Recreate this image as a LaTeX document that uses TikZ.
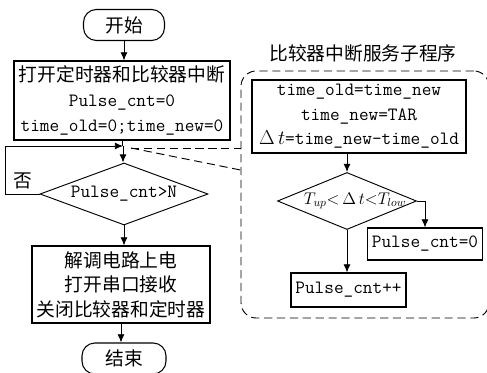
\documentclass[tikz,border=0pt]{standalone}
\usepackage{fontspec}
\newfontfamily\cjk{Noto Sans CJK SC}
\usetikzlibrary{shapes.geometric,arrows.meta}

\tikzset{
  every node/.style={font=\fontsize{16}{21}\selectfont},
  box/.style={draw, line width=0.9pt, align=center, inner sep=0pt},
  term/.style={box, rounded corners=11pt},
  decision/.style={draw, line width=0.8pt, diamond, inner sep=0pt},
}

\begin{document}
\begin{tikzpicture}[x=0.03cm, y=-0.03cm, line width=0.8pt, >={Latex[length=7pt,width=6pt]}]
        \useasboundingbox (0,0) rectangle (487,372);

        % main program
        \node [term, minimum width=2.43cm, minimum height=0.93cm] (start) at (124,25)  {\cjk 开始};
        \node [box, minimum width=6.48cm, minimum height=2.37cm]  (init)  at (122,100.5)
              {\cjk 打开定时器和比较器中断\\ \texttt{Pulse\_cnt=0}\\ \texttt{time\_old=0;time\_new=0}};
        \node [decision, minimum width=5.04cm, minimum height=1.86cm,
               label=center:{\texttt{Pulse\_cnt>N}}]         (cond)  at (124,194) {};
        \node [box, minimum width=5.34cm, minimum height=2.31cm]  (demod) at (121,284.5)
              {\cjk 解调电路上电\\ \cjk 打开串口接收\\ \cjk 关闭比较器和定时器};
        \node [term, minimum width=2.52cm, minimum height=0.93cm] (stop)  at (124,358.5) {\cjk 结束};
        \node (no) at (23,181) {\cjk 否};
        \coordinate (join) at (123,146);                          % loop re-entry
        \coordinate (tap)  at (131,148);                          % callout tip

        \draw [->] (start.south) -- (start.south |- init.north);
        \draw      (init.south)  -- (init.south |- join);
        \draw [->] (join)        -- (join |- cond.north);
        \draw [->] (cond.south)  -- (cond.south |- demod.north);
        \draw [->] (demod.south) -- (demod.south |- stop.north);
        \draw [->] (cond.west)   -- ++(-34,0) |- (join);          % no

        % interrupt service routine
        \node (title) at (363,53) {\cjk 比较器中断服务子程序};
        \node [draw, dashed, line width=0.8pt, rounded corners=13pt, dash pattern=on 7pt off 4pt,
               minimum width=7.44cm, minimum height=7.41cm]       (isr)   at (365,194.5) {};
        \node [box, minimum width=6.42cm, minimum height=2.19cm]  (calc)  at (359,116.5)
              {\texttt{time\_old=time\_new}\\ \texttt{time\_new=TAR}\\ $\Delta\,t$\texttt{=time\_new-time\_old}};
        \node [decision, minimum width=4.17cm, minimum height=1.71cm,
               label={[xshift=0.24cm, font=\fontsize{14}{17}\selectfont]center:$T_{up}{<}\,\Delta\,t{<}T_{low}$}] (check) at (347,201) {};
        \node [box, minimum width=3.45cm, minimum height=0.96cm]  (reset) at (425,244) {\texttt{Pulse\_cnt=0}};
        \node [box, minimum width=3.45cm, minimum height=1.02cm]  (inc)   at (348.5,290) {\texttt{Pulse\_cnt++}};

        \draw [->] (check.north |- calc.south) -- (check.north);
        \draw [->] (check.east)  -| (reset.north);
        \draw [->] (check.south) -- (check.south |- inc.north);

        % callout
        \draw [dashed, dash pattern=on 7pt off 4pt] (tap) -- (tap -| isr.west);
        \draw [dashed, dash pattern=on 7pt off 4pt] (tap) -- (isr.west |- 0,170);
\end{tikzpicture}
\end{document}
